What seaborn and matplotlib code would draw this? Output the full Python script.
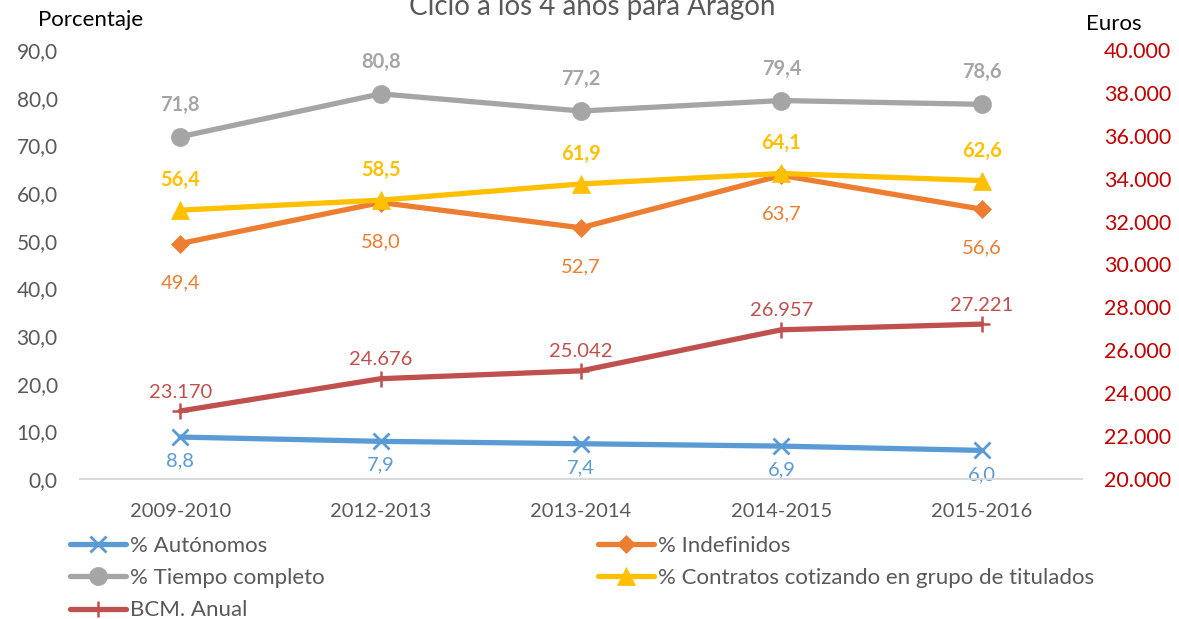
import numpy as np
import pandas as pd
import matplotlib
matplotlib.use('Agg')
import matplotlib.pyplot as plt
import seaborn as sns

# datos
periodos = ['2009-2010', '2012-2013', '2013-2014', '2014-2015', '2015-2016']
autonomos = [8.8, 7.9, 7.4, 6.9, 6.0]
indefinidos = [49.4, 58.0, 52.7, 63.7, 56.6]
tiempo_completo = [71.8, 80.8, 77.2, 79.4, 78.6]
contratos_titulados = [56.4, 58.5, 61.9, 64.1, 62.6]
bcm_anual = [23170, 24676, 25042, 26957, 27221]

sns.set_style('white')
plt.rcParams['font.family'] = ['Lato', 'DejaVu Sans']

df = pd.DataFrame({'periodo': periodos, 'aut': autonomos, 'ind': indefinidos,
                   'tc': tiempo_completo, 'cont': contratos_titulados, 'bcm': bcm_anual})

azul, naranja, gris, amarillo, rojo = '#5B9BD5', '#ED7D31', '#A5A5A5', '#FFC000', '#C0504D'
txt = '#595959'

fig = plt.figure(figsize=(11.79, 6.19), dpi=100)
ax = fig.add_axes([80/1179, 1-479/619, 1002/1179, 429/619])
ax2 = ax.twinx()

lw = 3.8
series = [
    ('aut', '% Autónomos', azul, 'x', 11, -24, False),
    ('ind', '% Indefinidos', naranja, 'D', 9.5, -39, False),
    ('tc', '% Tiempo completo', gris, 'o', 13, 32, True),
    ('cont', '% Contratos cotizando en grupo de titulados', amarillo, '^', 13, 30, True),
]
handles = {}
for col, lab, c, m, ms, off, bold in series:
    sns.lineplot(data=df, x='periodo', y=col, ax=ax, color=c, lw=lw, marker=m,
                 markersize=ms, markeredgecolor=c, markeredgewidth=2 if m == 'x' else 0.5,
                 label=lab, legend=False)
    handles[col] = ax.lines[-1]
    for i, v in enumerate(df[col]):
        ax.annotate(f'{v:.1f}'.replace('.', ','), (i, v), xytext=(0, off),
                    textcoords='offset pixels', ha='center', va='center',
                    fontsize=14.5, color=c, fontweight='bold' if bold else 'normal')

sns.lineplot(data=df, x='periodo', y='bcm', ax=ax2, color=rojo, lw=lw, marker='+',
             markersize=12, markeredgecolor=rojo, markeredgewidth=1.8,
             label='BCM. Anual', legend=False)
handles['bcm'] = ax2.lines[-1]
for i, v in enumerate(df['bcm']):
    ax2.annotate(f'{v:,}'.replace(',', '.'), (i, v), xytext=(0, 19),
                 textcoords='offset pixels', ha='center', va='center',
                 fontsize=14.5, color=rojo)

ax.set_xlim(-0.5, 4.5)
ax.set_ylim(0, 90)
ax2.set_ylim(20000, 40000)
ax.set_yticks(np.arange(0, 91, 10))
ax.set_yticklabels([f'{v:.1f}'.replace('.', ',') for v in np.arange(0, 91, 10)])
ax2.set_yticks(np.arange(20000, 40001, 2000))
ax2.set_yticklabels([f'{v:,}'.replace(',', '.') for v in range(20000, 40001, 2000)])
ax.set_xlabel('')
ax.set_ylabel('')
ax2.set_ylabel('')
ax.tick_params(axis='y', labelsize=15, labelcolor=txt, length=0, pad=16)
ax.tick_params(axis='x', labelsize=14.5, labelcolor=txt, length=0, pad=17)
ax2.tick_params(axis='y', labelsize=15.5, labelcolor='#C00000', length=0, pad=16)

for a in (ax, ax2):
    for s in ('top', 'left', 'right'):
        a.spines[s].set_visible(False)
    a.spines['bottom'].set_color('#D9D9D9')
    a.spines['bottom'].set_linewidth(1.3)
    a.grid(False)

# titulo cortado arriba como en el original
fig.text(592/1179, 1-15/619, 'Ciclo a los 4 años para Aragón', ha='center', va='baseline',
         fontsize=20, color=txt)
fig.text(38/1179, 1-26/619, 'Porcentaje', ha='left', va='baseline', fontsize=16, color='black')
fig.text(1086/1179, 1-30/619, 'Euros', ha='left', va='baseline', fontsize=16, color='black')

leg_kw = dict(frameon=False, fontsize=16, handlelength=2.5, handletextpad=0.18,
              labelspacing=0.55, borderaxespad=0, borderpad=0, labelcolor=txt)
h1 = [handles['aut'], handles['tc'], handles['bcm']]
fig.legend(h1, [h.get_label() for h in h1], loc='upper left',
           bbox_to_anchor=(70/1179, 1-536/619), **leg_kw)
h2 = [handles['ind'], handles['cont']]
fig.legend(h2, [h.get_label() for h in h2], loc='upper left',
           bbox_to_anchor=(598/1179, 1-536/619), **leg_kw)

fig.savefig('out.png', dpi=100)
